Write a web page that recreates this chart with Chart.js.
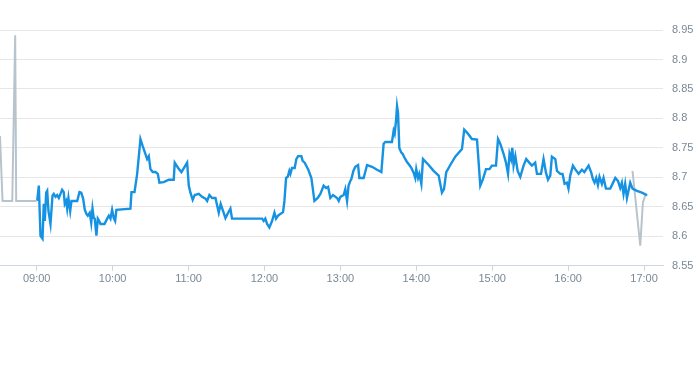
<!DOCTYPE html>
<html>
<head>
<meta charset="utf-8">
<script src="https://cdn.jsdelivr.net/npm/chart.js@4/dist/chart.umd.min.js"></script>
<style>
    body { margin: 0; background: #fff; }
    #wrap { position: relative; width: 693px; height: 288px; }
</style>
</head>
<body>
<div id="wrap"><canvas id="__chart_price"></canvas></div>
<script>

/**
 * chart data (times are minutes after 09:00)
 */

const hourTicks = [ '09:00', '10:00', '11:00', '12:00', '13:00', '14:00', '15:00', '16:00', '17:00' ];

const preMins = [ -29, -27, -19.3, -17, -16.2, 0 ];
const prePrices = [ 8.77, 8.66, 8.66, 8.941, 8.66, 8.66 ];

const sessionMins = [
    0.4, 1.7, 3.0, 4.6, 5.6, 6.4, 7.5, 8.3, 9.3, 10.9, 12.5, 13.5, 14.9, 16.2, 17.5, 18.8, 20.1, 21.4, 22.2, 23.3,
    24.1, 25.1, 26.5, 27.5, 32.0, 33.8, 35.2, 36.7, 38.0, 39.3, 40.4, 41.9, 43.1, 44.1, 45.1, 45.9, 47.2, 48.3, 49.4, 50.4,
    53.6, 55.7, 57.0, 58.3, 59.6, 60.9, 62.0, 63.0, 74.1, 74.9, 77.3, 79.4, 82.0, 83.8, 85.9, 87.3, 88.6, 89.9, 91.7, 93.9,
    95.7, 97.0, 100.4, 104.4, 108.3, 109.1, 111.8, 114.4, 118.9, 120.2, 121.5, 123.3, 124.9, 128.1, 130.7, 133.4, 134.7, 136.5, 138.6, 141.3,
    143.9, 145.4, 147.0, 149.2, 151.3, 153.1, 154.4, 178.1, 179.4, 180.7, 182.1, 183.9, 186.0, 187.9, 189.2, 190.8, 192.6, 194.7, 195.8, 197.1,
    198.4, 199.7, 200.5, 201.8, 203.9, 205.2, 206.6, 209.2, 210.2, 211.8, 214.5, 217.1, 219.5, 222.1, 224.2, 226.8, 228.7, 230.3, 232.1, 234.2,
    237.4, 238.7, 240.0, 242.6, 243.9, 245.3, 246.5, 247.9, 248.7, 250.3, 251.8, 254.0, 255.0, 258.4, 261.1, 265.0, 269.0, 272.4, 274.2, 275.5,
    280.8, 282.1, 282.9, 284.0, 284.8, 285.6, 286.6, 288.2, 289.2, 290.8, 292.7, 294.5, 296.1, 297.9, 299.2, 300.0, 301.4, 302.4, 304.0, 305.3,
    309.8, 313.7, 317.7, 320.3, 321.9, 323.7, 326.9, 330.8, 336.1, 337.9, 340.1, 344.0, 348.0, 350.6, 352.7, 355.1, 357.9, 359.8, 363.0, 364.6,
    366.4, 369.0, 370.9, 372.5, 373.7, 374.9, 375.9, 376.9, 378.3, 380.1, 382.2, 384.8, 386.9, 389.3, 391.4, 394.0, 395.4, 398.6, 400.6, 402.5,
    404.1, 405.9, 407.2, 409.9, 411.2, 413.8, 415.6, 417.2, 419.1, 420.3, 421.7, 423.8, 425.6, 428.3, 430.9, 432.8, 436.2, 438.3, 439.6, 440.9,
    442.2, 443.6, 444.8, 446.7, 448.0, 449.9, 453.3, 455.1, 457.3, 459.4, 461.2, 462.5, 463.8, 465.1, 466.5, 467.7, 469.1, 470.9, 474.4, 478.3,
    482.3
];
const sessionPrices = [
    8.66, 8.686, 8.601, 8.596, 8.655, 8.626, 8.674, 8.677, 8.643, 8.621, 8.669, 8.672, 8.667, 8.670, 8.665, 8.672, 8.679, 8.675, 8.655, 8.66,
    8.647, 8.665, 8.643, 8.66, 8.66, 8.675, 8.674, 8.664, 8.645, 8.638, 8.635, 8.640, 8.623, 8.647, 8.631, 8.630, 8.601, 8.630, 8.626, 8.621,
    8.621, 8.630, 8.635, 8.630, 8.645, 8.631, 8.626, 8.645, 8.647, 8.675, 8.675, 8.706, 8.765, 8.753, 8.74, 8.731, 8.736, 8.714, 8.709, 8.709,
    8.706, 8.691, 8.692, 8.696, 8.696, 8.725, 8.716, 8.709, 8.725, 8.686, 8.674, 8.662, 8.670, 8.672, 8.667, 8.664, 8.66, 8.670, 8.665, 8.665,
    8.640, 8.655, 8.645, 8.631, 8.640, 8.647, 8.630, 8.630, 8.626, 8.630, 8.621, 8.615, 8.626, 8.640, 8.630, 8.635, 8.638, 8.641, 8.660, 8.699,
    8.701, 8.711, 8.706, 8.716, 8.716, 8.731, 8.736, 8.736, 8.728, 8.725, 8.714, 8.699, 8.66, 8.665, 8.672, 8.686, 8.682, 8.684, 8.665, 8.670,
    8.665, 8.66, 8.667, 8.670, 8.680, 8.66, 8.686, 8.694, 8.697, 8.711, 8.718, 8.721, 8.699, 8.699, 8.721, 8.718, 8.713, 8.709, 8.757, 8.760,
    8.760, 8.779, 8.774, 8.796, 8.821, 8.809, 8.75, 8.742, 8.74, 8.733, 8.726, 8.721, 8.716, 8.708, 8.699, 8.714, 8.699, 8.706, 8.689, 8.731,
    8.721, 8.711, 8.703, 8.674, 8.680, 8.709, 8.721, 8.735, 8.748, 8.781, 8.776, 8.765, 8.764, 8.686, 8.697, 8.714, 8.714, 8.72, 8.72, 8.765,
    8.757, 8.74, 8.725, 8.706, 8.740, 8.731, 8.75, 8.72, 8.736, 8.711, 8.701, 8.72, 8.731, 8.725, 8.72, 8.725, 8.706, 8.706, 8.731, 8.708,
    8.696, 8.703, 8.735, 8.731, 8.711, 8.706, 8.706, 8.689, 8.691, 8.681, 8.703, 8.72, 8.714, 8.706, 8.713, 8.709, 8.72, 8.708, 8.697, 8.691,
    8.699, 8.687, 8.701, 8.689, 8.699, 8.681, 8.681, 8.689, 8.699, 8.694, 8.682, 8.691, 8.672, 8.689, 8.665, 8.677, 8.691, 8.681, 8.677, 8.674,
    8.670
];

const postMins = [ 470.9, 477.0, 479.1, 480.9, 482.8 ];
const postPrices = [ 8.711, 8.584, 8.657, 8.669, 8.670 ];

const axisMin = -29;
const axisMax = 495;
const priceMin = 8.55;
const priceMax = 8.95;

document.addEventListener( 'DOMContentLoaded', function () {

    let chart = document.getElementById( '__chart_price' );

    if( chart ) {

        let ctx = chart.getContext( '2d' );

        const toPoints = ( mins, prices ) => mins.map( ( m, i ) => ( { x: 540 + m, y: prices[ i ] } ) );

        const toMinutes = ( label ) => {
            let p = label.split( ':' );
            return parseInt( p[0] ) * 60 + parseInt( p[1] );
        };

        const grey = 'rgba( 184 196 205 / 1 )';
        const blue = 'rgba( 22 146 226 / 1 )';
        const textColor = 'rgba( 122 136 150 / 1 )';

        new Chart( ctx, {
            type: 'line',
            data: {
                datasets: [ {
                    data: toPoints( preMins, prePrices ),
                    borderColor: grey,
                    borderWidth: 2,
                    pointRadius: 0,
                    tension: 0
                }, {
                    data: toPoints( sessionMins, sessionPrices ),
                    borderColor: blue,
                    borderWidth: 2.4,
                    pointRadius: 0,
                    tension: 0
                }, {
                    data: toPoints( postMins, postPrices ),
                    borderColor: grey,
                    borderWidth: 2,
                    pointRadius: 0,
                    tension: 0
                } ]
            },
            options: {
                responsive: true,
                maintainAspectRatio: false,
                animation: false,
                layout: {
                    padding: { top: 30, left: 0, right: 0, bottom: 0 }
                },
                plugins: {
                    legend: { display: false },
                    tooltip: { enabled: false }
                },
                scales: {
                    x: {
                        type: 'linear',
                        min: 540 + axisMin,
                        max: 540 + axisMax,
                        border: {
                            display: true,
                            color: 'rgba( 204 214 224 / 1 )'
                        },
                        grid: {
                            drawOnChartArea: false,
                            drawTicks: true,
                            tickLength: 5,
                            color: 'rgba( 204 214 224 / 1 )'
                        },
                        afterBuildTicks: ( scale ) => {
                            scale.ticks = hourTicks.map( h => ( { value: toMinutes( h ) } ) );
                        },
                        ticks: {
                            color: textColor,
                            padding: 2,
                            maxRotation: 0,
                            autoSkip: false,
                            font: { family: 'Arial, "Liberation Sans", sans-serif', size: 11 },
                            callback: ( value ) => {
                                let h = Math.floor( value / 60 );
                                let m = value % 60;
                                return String( h ).padStart( 2, '0' ) + ':' + String( m ).padStart( 2, '0' );
                            }
                        }
                    },
                    y: {
                        position: 'right',
                        min: priceMin,
                        max: priceMax,
                        border: { display: false },
                        grid: {
                            color: 'rgba( 230 230 230 / 1 )',
                            lineWidth: 1,
                            drawTicks: false
                        },
                        afterFit: ( scale ) => {
                            scale.width = 30;
                        },
                        ticks: {
                            stepSize: 0.05,
                            padding: 9,
                            color: textColor,
                            font: { family: 'Arial, "Liberation Sans", sans-serif', size: 11 },
                            callback: ( value ) => parseFloat( value.toFixed( 2 ) ).toString()
                        }
                    }
                }
            }
        } );

    }

} );
</script>
</body>
</html>
